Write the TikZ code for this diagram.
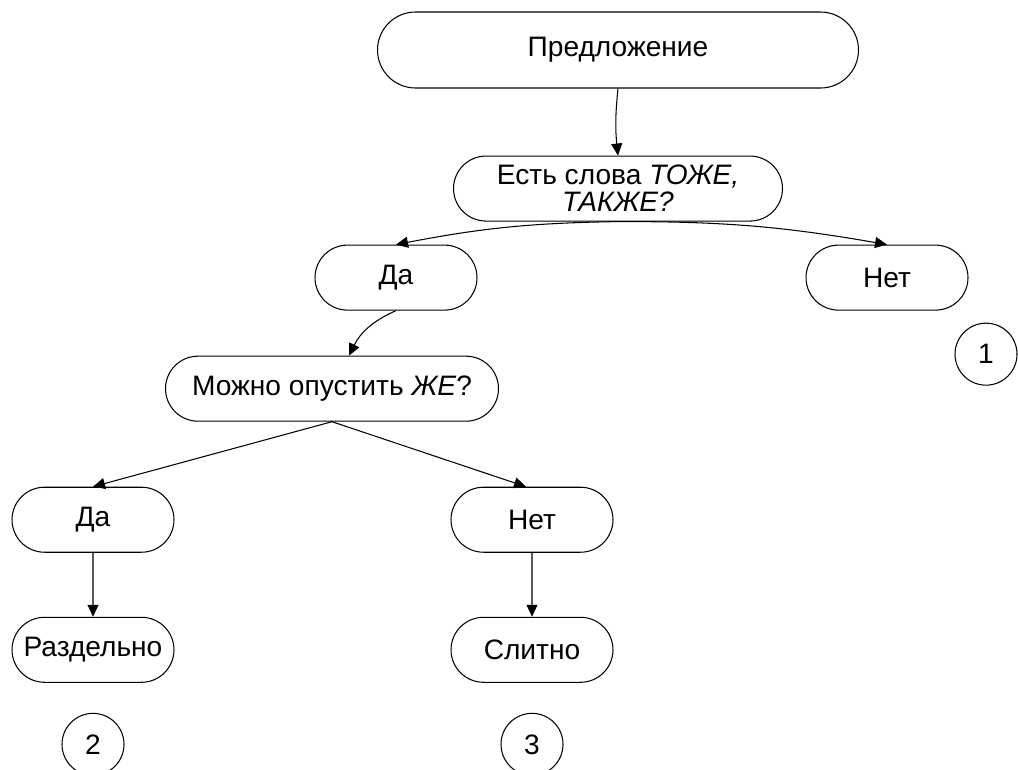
\documentclass[tikz,border=0pt]{standalone}
\usepackage{fontspec}
\setmainfont{Liberation Sans}
\usetikzlibrary{shapes,arrows,positioning,shapes.misc,arrows.meta}

\begin{document}
\begin{tikzpicture}[
				node distance=1cm,
				block/.style={rounded rectangle, draw, line width=0.6pt, minimum width=3.38cm, minimum height=1.3cm, inner xsep=2pt, inner ysep=1pt, align=center, font=\fontsize{16pt}{15.5pt}\selectfont},
				num/.style={circle, draw, line width=0.6pt, minimum size=1.24cm, inner sep=0pt, font=\fontsize{16pt}{16pt}\selectfont},
				arrow/.style={-{Triangle[length=0.24cm, width=0.22cm]}, line width=0.6pt}
				]
				\useasboundingbox (0,0) rectangle (20.36,-15.38);
				% Вопросы
				\node[block, minimum width=9.76cm, minimum height=1.52cm] (sent) at (12.36,-1.0) {Предложение};
				\node[block, minimum width=6.72cm, below=1.34cm of sent] (tozhe) {Есть слова \textit{ТОЖЕ,}\\\textit{ТАКЖЕ?}};
				\node[block, below=0.46cm of tozhe, xshift=-4.44cm] (yes1) {Да};
				\node[block, below=0.46cm of tozhe, xshift=5.38cm] (no1) {Нет};
				\node[num, below=0.24cm of no1, xshift=1.98cm] (n1) {1};
				\node[block, minimum width=6.8cm, below=0.9cm of yes1, xshift=-1.28cm] (omit) {Можно опустить \textit{ЖЕ}?};
				
				% Ответы
				\node[block, below=1.3cm of omit, xshift=-4.78cm] (yes2) {Да};
				\node[block, below=1.3cm of omit, xshift=4cm] (no2) {Нет};
				\node[block, below=1.28cm of yes2] (apart) {Раздельно};
				\node[block, below=1.28cm of no2] (joint) {Слитно};
				\node[num, below=0.6cm of apart] (n2) {2};
				\node[num, below=0.6cm of joint] (n3) {3};
				
				% Стрелки
				\draw[arrow] (sent.south) to[bend right=6] (tozhe.north);
				\draw[arrow] (tozhe.south) to[bend right=5] (yes1.north);
				\draw[arrow] (tozhe.south) to[bend left=5] (no1.north);
				\draw[arrow] (yes1.south) to[bend right=20] ([xshift=0.34cm]omit.north);
				\draw[arrow] (omit.south) -- (yes2.north);
				\draw[arrow] (omit.south) -- ([xshift=-0.12cm]no2.north);
				\draw[arrow] (yes2) -- (apart);
				\draw[arrow] (no2) -- (joint);
			\end{tikzpicture}
\end{document}
